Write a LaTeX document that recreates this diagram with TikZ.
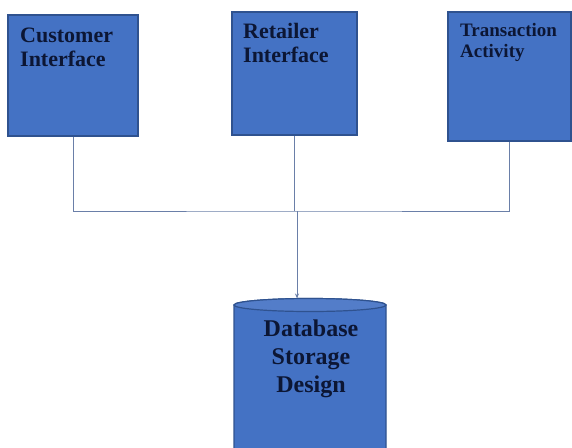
\documentclass[tikz,border=0pt]{standalone}
\usepackage{fontspec}
\setmainfont{Liberation Serif}
\usetikzlibrary{arrows.meta}
\definecolor{boxblue}{HTML}{4472C4}
\definecolor{boxedge}{HTML}{2F528F}
\definecolor{inkblue}{RGB}{12,22,52}
\definecolor{wire}{HTML}{6A7FA8}
\tikzset{
    BX/.style ={rectangle, draw=boxedge, fill=boxblue, line width=1.2pt, inner sep=0pt},
    TX/.style ={anchor=north west, align=left, inner sep=0pt, text=inkblue, font=\bfseries},
    LN/.style ={draw=wire, line width=1pt}}

\begin{document}
\begin{tikzpicture}[x=1pt, y=-1pt]
        \useasboundingbox (0,0) rectangle (572,447);
        \clip (0,0) rectangle (572,447);
        \node[BX, minimum width=130pt, minimum height=121pt] (cust) at(73,75.5){};
        \node[BX, minimum width=125pt, minimum height=123pt] (retail) at(294.5,73.5){};
        \node[BX, minimum width=123pt, minimum height=129pt] (trans) at(509.5,76.5){};
        % database cylinder
        \filldraw[fill=boxblue, draw=boxedge, line width=1.2pt]
            (234,305) -- (234,460) -- (386,460) -- (386,305) arc[start angle=0, end angle=-180, x radius=76, y radius=6.5] -- cycle;
        \filldraw[fill=boxblue!92!white, draw=boxedge, line width=1.2pt] (310,305) ellipse[x radius=76, y radius=6.5];
        \coordinate (dbtop) at(310,298.5);
        \node[TX, font=\bfseries\fontsize{22}{24}\selectfont] (custtext) at(20,28){Customer\\Interface};
        \node[TX, font=\bfseries\fontsize{22}{24}\selectfont] (retailtext) at(243,23){Retailer\\Interface};
        \node[TX, font=\bfseries\fontsize{19}{21}\selectfont] (transtext) at(460,23){Transaction\\Activity};
        \node[TX, anchor=north, align=center, font=\bfseries\fontsize{24}{28}\selectfont] (db) at(311,320){Database\\Storage\\Design};
        \coordinate (bus) at(297,211);
        \draw[LN] (cust.south) |- (bus) -| (trans.south);
        \draw[LN] (retail.south) -- (retail.south |- bus);
        \draw[LN, -{Stealth[length=5pt, width=4pt]}] (bus) -- (bus |- dbtop);
    \end{tikzpicture}
\end{document}
